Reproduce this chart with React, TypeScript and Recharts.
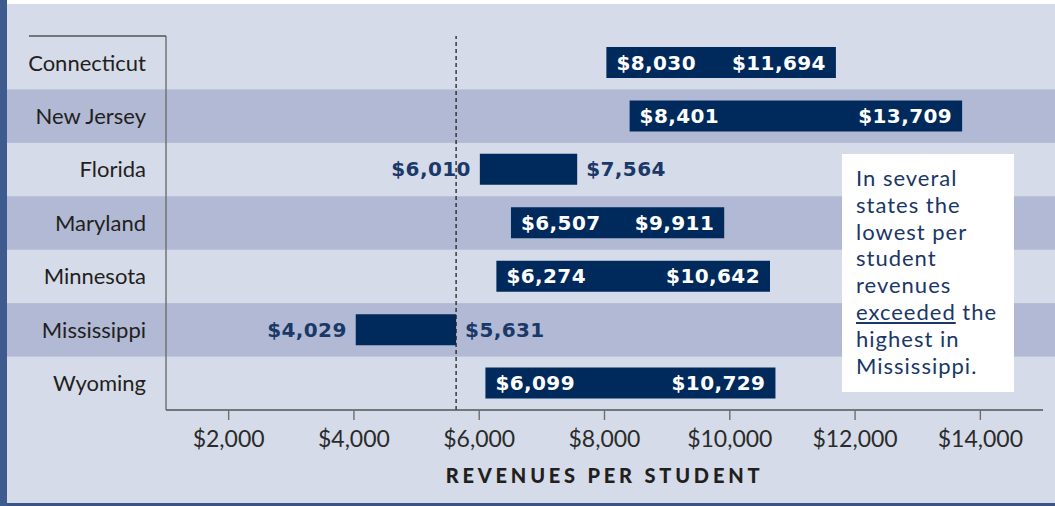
import type { CSSProperties } from "react";
import {
	Bar,
	BarChart,
	Label,
	LabelList,
	ReferenceArea,
	ReferenceLine,
	XAxis,
	YAxis,
} from "recharts";

const states = [
	"Connecticut",
	"New Jersey",
	"Florida",
	"Maryland",
	"Minnesota",
	"Mississippi",
	"Wyoming",
];
const lowest = [8030, 8401, 6010, 6507, 6274, 4029, 6099];
const highest = [11694, 13709, 7564, 9911, 10642, 5631, 10729];
const shadedStates = ["New Jersey", "Maryland", "Mississippi"];
const xTicks = [2000, 4000, 6000, 8000, 10000, 12000, 14000];
const xDomain = [1000, 15000];
const mississippiHighest = 5631;

const WIDTH = 1055;
const HEIGHT = 506;
const FRAME_LEFT = 7;
const NAVY = "#002a5c";
const OUTSIDE_TEXT = "#1a3868";
const LIGHT_BG = "#d5dbe8";
const BAND_BG = "#b1b9d4";
const INSIDE_MIN = 160;

const rows = states.map((state, i) => ({
	state,
	low: lowest[i],
	high: highest[i],
	range: [lowest[i], highest[i]],
}));

function money(v: number) {
	return "$" + String(v).replace(/\B(?=(\d{3})+(?!\d))/g, ",");
}

const barLabelStyle: CSSProperties = {
	fontFamily: "DejaVu Sans",
	fontWeight: 700,
	fontSize: 20,
	letterSpacing: "0.4px",
};

function box(props: any) {
	const vb = props.viewBox ?? props;
	return {
		x: Number(vb.x),
		y: Number(vb.y),
		width: Number(vb.width),
		height: Number(vb.height),
	};
}

function LowLabel(props: any) {
	const { x, y, width, height } = box(props);
	const inside = width > INSIDE_MIN;
	return (
		<text
			x={inside ? x + 10 : x - 9}
			y={y + height / 2 + 7}
			textAnchor={inside ? "start" : "end"}
			fill={inside ? "#ffffff" : OUTSIDE_TEXT}
			style={barLabelStyle}
		>
			{money(props.value)}
		</text>
	);
}

function HighLabel(props: any) {
	const { x, y, width, height } = box(props);
	const inside = width > INSIDE_MIN;
	return (
		<text
			x={inside ? x + width - 10 : x + width + 9}
			y={y + height / 2 + 7}
			textAnchor={inside ? "end" : "start"}
			fill={inside ? "#ffffff" : OUTSIDE_TEXT}
			style={barLabelStyle}
		>
			{money(props.value)}
		</text>
	);
}

function BandShape(props: any) {
	return (
		<rect
			x={FRAME_LEFT}
			y={props.y}
			width={WIDTH - FRAME_LEFT}
			height={props.height}
			fill={BAND_BG}
		/>
	);
}

// y axis line plus the x axis line running on under the state names
function AxisCorner(props: any) {
	const { x1, y1, x2, y2 } = props;
	return (
		<g>
			<line x1={x1} y1={y1} x2={x2} y2={y2} stroke="#6e6e6e" strokeWidth={1.4} />
			<line x1={29} y1={y2} x2={x1} y2={y2} stroke="#555555" strokeWidth={1.4} />
		</g>
	);
}

export default function App() {
	return (
		<div
			style={{
				position: "absolute",
				left: 0,
				top: 0,
				width: WIDTH,
				height: HEIGHT,
				background: LIGHT_BG,
				overflow: "hidden",
			}}
		>
			<div style={{ position: "absolute", left: 0, top: 0, width: FRAME_LEFT, height: HEIGHT, background: "#3d5b8e" }} />
			<div style={{ position: "absolute", left: FRAME_LEFT, top: 0, width: WIDTH, height: 4, background: "#ffffff" }} />
			<div style={{ position: "absolute", left: FRAME_LEFT, top: HEIGHT - 3, width: WIDTH, height: 3, background: "#3a5585" }} />
			<div style={{ position: "absolute", left: 0, top: 0 }}>
				<BarChart
					layout="vertical"
					width={WIDTH}
					height={HEIGHT}
					data={rows}
					margin={{ top: 36, right: 12, bottom: 0, left: 0 }}
					barSize={31}
				>
					{shadedStates.map((s) => (
						<ReferenceArea
							key={s}
							y1={s}
							y2={s}
							ifOverflow="visible"
							shape={BandShape}
							zIndex={-90}
						/>
					))}
					<XAxis
						type="number"
						domain={xDomain}
						ticks={xTicks}
						interval={0}
						allowDataOverflow
						tickFormatter={money}
						height={96}
						tickSize={10}
						tickMargin={11}
						axisLine={{ stroke: "#555555", strokeWidth: 1.4 }}
						tickLine={{ stroke: "#6e6e6e", strokeWidth: 1.4 }}
						tick={{ fill: "#2b2b2b", fontSize: 23, fontFamily: "Lato" }}
					>
						<Label
							value="REVENUES PER STUDENT"
							position="insideBottom"
							offset={23}
							fill="#231f20"
							fontSize={20}
							fontWeight={900}
							fontFamily="Lato"
							style={{ letterSpacing: "3.8px" }}
						/>
					</XAxis>
					<YAxis
						type="category"
						dataKey="state"
						width={166}
						interval={0}
						tickSize={0}
						tickMargin={20}
						axisLine={false}
						tickLine={false}
						tick={{ fill: "#231f20", fontSize: 22, fontFamily: "Lato" }}
					/>
					<Bar dataKey="range" fill={NAVY} isAnimationActive={false}>
						<LabelList dataKey="low" content={LowLabel} />
						<LabelList dataKey="high" content={HighLabel} />
					</Bar>
					<ReferenceLine x={xDomain[0]} ifOverflow="visible" shape={AxisCorner} />
					<ReferenceLine
						x={mississippiHighest}
						ifOverflow="visible"
						stroke="#222222"
						strokeWidth={1.3}
						strokeDasharray="4 3"
					/>
				</BarChart>
			</div>
			<div
				style={{
					position: "absolute",
					left: 842,
					top: 154,
					width: 172,
					height: 238,
					boxSizing: "border-box",
					padding: "11px 0 0 14px",
					background: "#ffffff",
					color: "#1a3768",
					fontFamily: "Lato",
					fontSize: 22,
					lineHeight: "26.8px",
					letterSpacing: "1px",
				}}
			>
				In several
				<br />
				states the
				<br />
				lowest per
				<br />
				student
				<br />
				revenues
				<br />
				<u>exceeded</u> the
				<br />
				highest in
				<br />
				Mississippi.
			</div>
		</div>
	);
}
